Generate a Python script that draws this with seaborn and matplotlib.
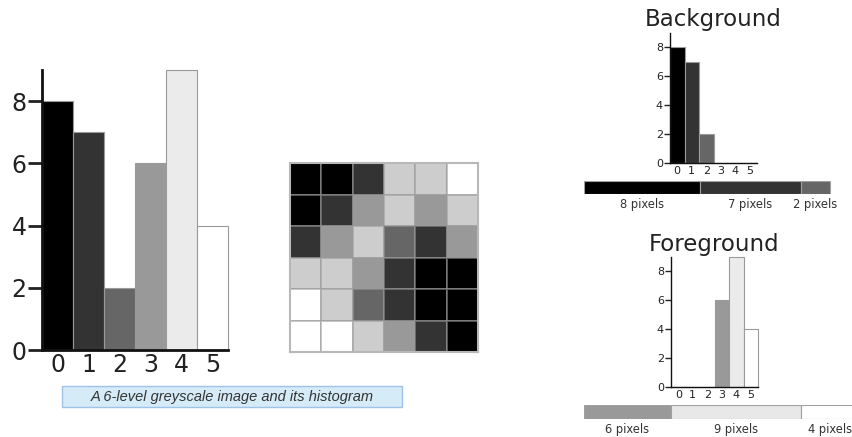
import numpy as np
import pandas as pd
import matplotlib
matplotlib.use("Agg")
import matplotlib.pyplot as plt
from matplotlib.colors import ListedColormap
from matplotlib.patches import FancyBboxPatch
import seaborn as sns

# grey levels 0..5
levels = [0, 1, 2, 3, 4, 5]
counts = [8, 7, 2, 6, 9, 4]
bar_colors = ["#000000", "#333333", "#666666", "#999999", "#ebebeb", "#ffffff"]
cell_colors = ["#000000", "#333333", "#666666", "#999999", "#cdcdcd", "#ffffff"]

# the 6x6 image, top row first
image_rows = [
    [0, 0, 1, 4, 4, 5],
    [0, 1, 3, 4, 3, 4],
    [1, 3, 4, 2, 1, 3],
    [4, 4, 3, 1, 0, 0],
    [5, 4, 2, 1, 0, 0],
    [5, 5, 4, 3, 1, 0],
]

bg_counts = [8, 7, 2, 0, 0, 0]
fg_counts = [0, 0, 0, 6, 9, 4]
bg_strip = [8, 7, 2]
bg_strip_colors = ["#000000", "#333333", "#666666"]
fg_strip = [6, 9, 4]
fg_strip_colors = ["#999999", "#e8e8e8", "#ffffff"]

caption = "A 6-level greyscale image and its histogram"

W, H = 852, 437
sns.set_style("white")
plt.rcParams["font.family"] = ["DejaVu Sans"]
fig = plt.figure(figsize=(W / 100, H / 100), dpi=100)


def px_axes(x, y_top, w, h):
    # place axes in pixel coords (top-left origin)
    return fig.add_axes([x / W, 1 - (y_top + h) / H, w / W, h / H])


def histogram(ax, values, fs, lw, ticklen):
    df = pd.DataFrame({"level": levels, "count": values})
    sns.barplot(data=df, x="level", y="count", hue="level", palette=bar_colors,
                legend=False, width=1.0, edgecolor="#9a9a9a", linewidth=0.8, ax=ax)
    for p in ax.patches:
        p.set_clip_on(False)
    ax.set_ylim(0, 9)
    ax.set_xlim(-0.5, 5.5)
    ax.set_yticks([0, 2, 4, 6, 8])
    ax.set_xlabel("")
    ax.set_ylabel("")
    sns.despine(ax=ax)
    for s in ["left", "bottom"]:
        ax.spines[s].set_linewidth(lw)
        ax.spines[s].set_color("#111111")
        ax.spines[s].set_zorder(5)
    ax.tick_params(axis="y", length=ticklen, width=lw, labelsize=fs, pad=1,
                   left=True, colors="#222222")
    ax.tick_params(axis="x", length=0, labelsize=fs, pad=2, colors="#222222")


# main histogram
ax_main = px_axes(42, 70, 186, 280)
histogram(ax_main, counts, 17, 2.0, 10)

# the image
ax_img = px_axes(290, 163, 188, 189)
grid = pd.DataFrame(image_rows)
sns.heatmap(grid, cmap=ListedColormap(cell_colors), vmin=-0.5, vmax=5.5,
            cbar=False, linewidths=1.1, linecolor=(0.6, 0.6, 0.6, 0.55), square=False,
            xticklabels=False, yticklabels=False, ax=ax_img)
for s in ax_img.spines.values():
    s.set_visible(True)
    s.set_color("#b8b8b8")
    s.set_linewidth(1.5)

# caption box
fig.patches.append(FancyBboxPatch((62 / W, 1 - 407 / H), 340 / W, 21 / H,
                                  boxstyle="square,pad=0", transform=fig.transFigure,
                                  facecolor="#d5ebf8", edgecolor="#9fc3e6", linewidth=1))
fig.text(232 / W, 1 - 397 / H, caption, ha="center", va="center", style="italic",
         fontsize=10.5, color="#333333", family=["Liberation Sans", "DejaVu Sans"])


def strip(ax, sizes, colors, total=19):
    left = np.concatenate([[0], np.cumsum(sizes)[:-1]])
    ax.barh([0] * len(sizes), sizes, left=left, color=colors, height=1.0,
            edgecolor="#a0a0a0", linewidth=0.8, align="center")
    ax.set_xlim(0, total)
    ax.set_ylim(-0.5, 0.5)
    ax.set_yticks([])
    ax.set_xticks(left + np.array(sizes) / 2)
    ax.set_xticklabels([f"{s} pixels" for s in sizes])
    ax.tick_params(axis="x", length=0, labelsize=8.3, pad=3, colors="#333333")
    for s in ax.spines.values():
        s.set_visible(False)


unit = 14.45

# background
ax_bg = px_axes(670, 33, 87, 130)
histogram(ax_bg, bg_counts, 8, 1.0, 4)
ax_bg.set_title("Background", fontsize=16.5, color="#222222", pad=5)
ax_bs = px_axes(584, 181, 19 * unit, 13)
strip(ax_bs, bg_strip, bg_strip_colors)

# foreground
ax_fg = px_axes(671, 257, 87, 130)
histogram(ax_fg, fg_counts, 8, 1.0, 4)
ax_fg.set_title("Foreground", fontsize=16.5, color="#222222", pad=4)
ax_fs = px_axes(584, 405, 19 * unit, 14)
strip(ax_fs, fg_strip, fg_strip_colors)

fig.savefig("out.png", dpi=100)
